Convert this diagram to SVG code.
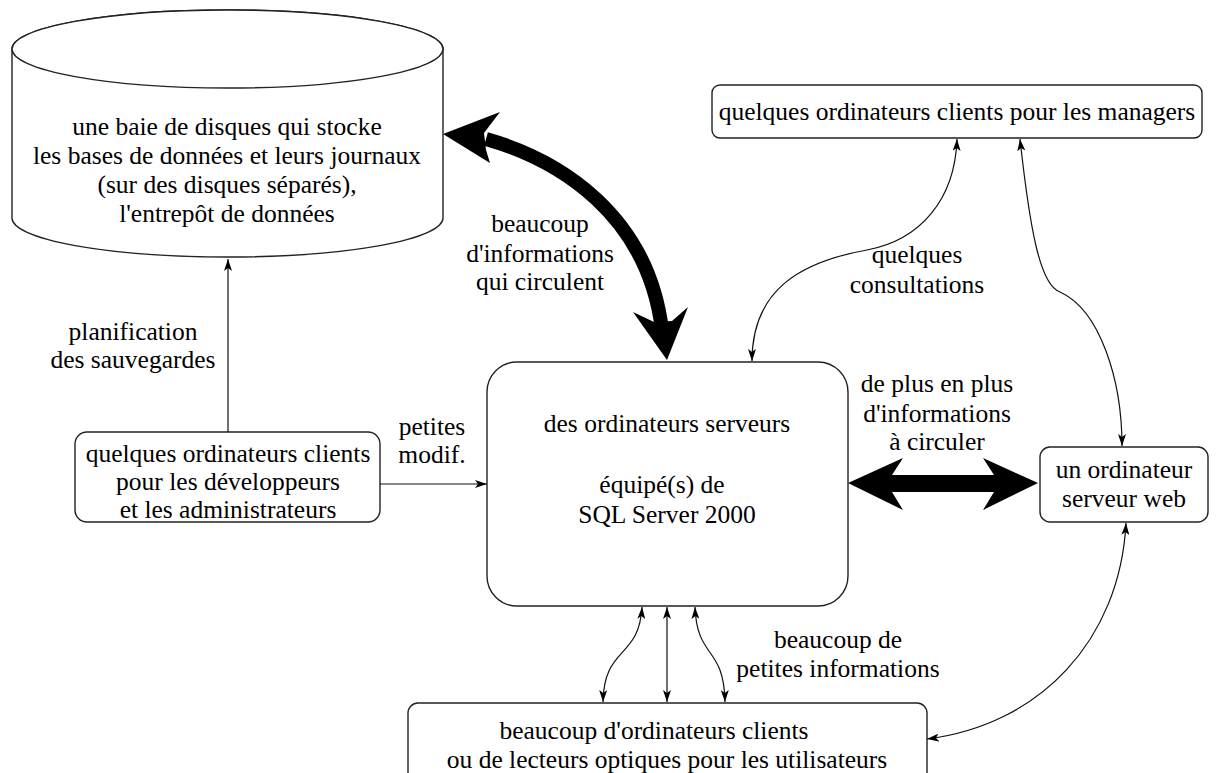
<svg xmlns="http://www.w3.org/2000/svg" width="1232" height="773" viewBox="0 0 1232 773">
<style>
.bx{fill:#fff;stroke:#222;stroke-width:1.4}
.c{fill:none;stroke:#111;stroke-width:1.2}
.thick{fill:none;stroke:#000;stroke-width:14}
.head{fill:#000;stroke:none}
</style>
<defs>
<marker id="a" viewBox="0 0 12 8" refX="12" refY="4" markerWidth="12" markerHeight="8" markerUnits="userSpaceOnUse" orient="auto-start-reverse">
<path d="M0,0 L12,4 L0,8 L3,4 z" fill="#000"/>
</marker>
</defs>
<rect width="1232" height="773" fill="#fff"/>

<g font-family="Liberation Serif, Times New Roman, serif" font-size="25.5" text-anchor="middle" fill="#000">
<g id="storage">
<path class="bx" d="M12,49 L12,218 A215.5,39 0 0 0 443,218 L443,49 A215.5,39 0 0 0 12,49 Z"/>
<ellipse class="bx" cx="227.5" cy="49" rx="215.5" ry="39" fill="none"/>
<text x="227" y="135">une baie de disques qui stocke</text>
<text x="227" y="164">les bases de données et leurs journaux</text>
<text x="227" y="193">(sur des disques séparés),</text>
<text x="227" y="222">l'entrepôt de données</text>
</g>

<g id="dev">
<rect class="bx" x="75" y="432" width="305" height="90" rx="12"/>
<text x="228" y="462">quelques ordinateurs clients</text>
<text x="228" y="490">pour les développeurs</text>
<text x="228" y="518">et les administrateurs</text>
</g>

<g id="server">
<rect class="bx" x="487" y="362" width="361" height="244" rx="30"/>
<text x="667" y="432">des ordinateurs serveurs</text>
<text x="662" y="493">équipé(s) de</text>
<text x="667" y="523">SQL Server 2000</text>
</g>

<g id="managers">
<rect class="bx" x="712" y="85" width="490" height="53" rx="8"/>
<text x="957" y="120">quelques ordinateurs clients pour les managers</text>
</g>

<g id="web">
<rect class="bx" x="1040" y="447" width="168" height="75" rx="10"/>
<text x="1124" y="478">un ordinateur</text>
<text x="1124" y="507">serveur web</text>
</g>

<g id="users">
<rect class="bx" x="408" y="703" width="519" height="100" rx="10"/>
<text x="654" y="739">beaucoup d'ordinateurs clients</text>
<text x="667" y="768">ou de lecteurs optiques pour les utilisateurs</text>
</g>

<g id="connectors">
<path class="c" d="M228,432 L228,259" marker-end="url(#a)"/>
<path class="c" d="M380,484 L487,484" marker-end="url(#a)"/>
<path class="thick" d="M486,139 C560,160 648,215 662,330"/>
<polygon class="head" points="443,134 500,112 484,133 486,150 490,163"/>
<polygon class="head" points="667,360 633,312 654,322 672,321 688,307"/>
<polygon class="head" points="848,483 903,458 892,475 994,475 983,458 1038,483 983,510 994,492 892,492 903,510"/>
<path class="c" d="M957,139 C955,200 920,240 867,250 C800,262 752,290 752,361" marker-start="url(#a)" marker-end="url(#a)"/>
<path class="c" d="M1020,139 C1030,230 1040,285 1060,292 C1100,310 1122,380 1122,446" marker-start="url(#a)" marker-end="url(#a)"/>
<path class="c" d="M1126,523 C1120,640 1040,725 927,739" marker-start="url(#a)" marker-end="url(#a)"/>
<path class="c" d="M667,607 L667,702" marker-start="url(#a)" marker-end="url(#a)"/>
<path class="c" d="M642,607 C639,660 604,645 603,702" marker-start="url(#a)" marker-end="url(#a)"/>
<path class="c" d="M695,607 C697,660 724,645 725,702" marker-start="url(#a)" marker-end="url(#a)"/>
</g>

<g id="labels">
<text x="133" y="340">planification</text>
<text x="133" y="368">des sauvegardes</text>
<text x="432" y="435">petites</text>
<text x="432" y="463">modif.</text>
<text x="540" y="232">beaucoup</text>
<text x="540" y="262">d'informations</text>
<text x="540" y="290">qui circulent</text>
<text x="917" y="263">quelques</text>
<text x="917" y="293">consultations</text>
<text x="937" y="392">de plus en plus</text>
<text x="937" y="422">d'informations</text>
<text x="937" y="450">à circuler</text>
<text x="838" y="648">beaucoup de</text>
<text x="838" y="677">petites informations</text>
</g>
</g>
</svg>
